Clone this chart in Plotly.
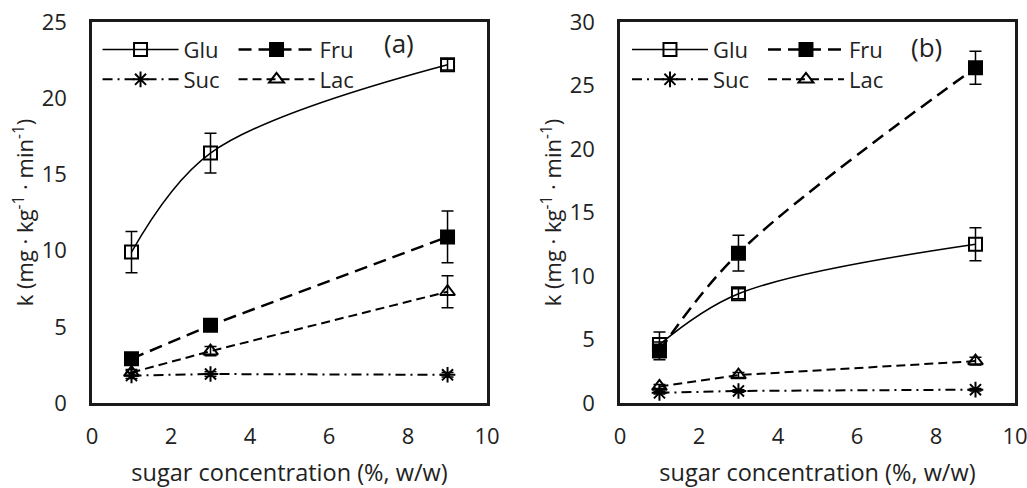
import plotly.graph_objects as go

conc = [1, 3, 9]

# Panel (a)
a_glu = [9.9, 16.4, 22.2]
a_glu_err = [1.35, 1.3, 0.35]
a_fru = [2.9, 5.1, 10.9]
a_fru_err = [0.3, 0.3, 1.7]
a_suc = [1.8, 1.9, 1.85]
a_suc_err = [0.2, 0.15, 0.15]
a_lac = [2.0, 3.4, 7.3]
a_lac_err = [0.2, 0.3, 1.05]

# Panel (b)
b_glu = [4.6, 8.6, 12.5]
b_glu_err = [1.0, 0.4, 1.3]
b_fru = [4.1, 11.8, 26.4]
b_fru_err = [0.7, 1.4, 1.3]
b_suc = [0.8, 0.95, 1.05]
b_suc_err = [0.1, 0.1, 0.1]
b_lac = [1.3, 2.2, 3.3]
b_lac_err = [0.15, 0.2, 0.3]

FONT = "Open Sans"
FS = 22
TC = "#222"

styles = {
    "Glu": dict(dash="solid", width=1.5, symbol="square-open", shape="spline"),
    "Fru": dict(dash="13px,7px", width=2.5, symbol="square", shape="linear"),
    "Suc": dict(dash="10px,5px,2px,5px", width=2, symbol="asterisk-open", shape="linear"),
    "Lac": dict(dash="9px,5px", width=2, symbol="triangle-up-open", shape="linear"),
}

fig = go.Figure()

def add(name, y, err, xa, ya, legend, shape=None):
    st = styles[name]
    fig.add_trace(go.Scatter(
        x=conc, y=y, name=name, xaxis=xa, yaxis=ya, legend=legend,
        mode="lines+markers",
        line=dict(color="black", width=st["width"], dash=st["dash"],
                  shape=shape or st["shape"], smoothing=1.0),
        marker=dict(symbol=st["symbol"], size=13, color="black",
                    line=dict(color="black", width=2)),
        error_y=dict(type="data", array=err, visible=True, color="black",
                     thickness=1.5, width=6),
    ))

add("Glu", a_glu, a_glu_err, "x", "y", "legend")
add("Fru", a_fru, a_fru_err, "x", "y", "legend")
add("Suc", a_suc, a_suc_err, "x", "y", "legend2")
add("Lac", a_lac, a_lac_err, "x", "y", "legend2")
add("Glu", b_glu, b_glu_err, "x2", "y2", "legend3")
add("Fru", b_fru, b_fru_err, "x2", "y2", "legend3", shape="spline")
add("Suc", b_suc, b_suc_err, "x2", "y2", "legend4")
add("Lac", b_lac, b_lac_err, "x2", "y2", "legend4")

axis_common = dict(
    showline=True, linecolor="#1a1a1a", linewidth=2.5, mirror=True,
    showgrid=False, zeroline=False, ticks="", automargin=False,
    ticklabeloverflow="allow",
    tickfont=dict(family=FONT, size=FS, color=TC),
)
xtitle = dict(text="sugar concentration (%, w/w)", font=dict(family=FONT, size=23.5, color=TC), standoff=18)
ytitle = dict(text="k (mg · kg<sup>-1</sup> · min<sup>-1</sup>)", font=dict(family=FONT, size=FS, color=TC), standoff=2)

leg_common = dict(orientation="h", bgcolor="rgba(0,0,0,0)", borderwidth=0,
                  font=dict(family=FONT, size=FS, color=TC),
                  yanchor="middle", xanchor="left", entrywidth=45, entrywidthmode="pixels",
                  itemwidth=76, tracegroupgap=0, itemclick=False)

fig.update_layout(
    width=1027, height=488,
    paper_bgcolor="white", plot_bgcolor="white",
    margin=dict(l=92, r=12, t=22, b=85),
    xaxis=dict(domain=[0, 0.428], range=[0, 10], tickvals=[0, 2, 4, 6, 8, 10],
               ticklabelstandoff=12, title=xtitle, anchor="y", **axis_common),
    yaxis=dict(domain=[0, 1], range=[0, 25], tickvals=[0, 5, 10, 15, 20, 25],
               ticklabelstandoff=18, title=ytitle, anchor="x", **axis_common),
    xaxis2=dict(domain=[0.572, 1.0], range=[0, 10], tickvals=[0, 2, 4, 6, 8, 10],
                ticklabelstandoff=12, title=xtitle, anchor="y2", **axis_common),
    yaxis2=dict(domain=[0, 1], range=[0, 30], tickvals=[0, 5, 10, 15, 20, 25, 30],
                ticklabelstandoff=18, title=ytitle, anchor="x2", **axis_common),
    legend=dict(x=0.006, y=0.927, **leg_common),
    legend2=dict(x=0.006, y=0.849, **leg_common),
    legend3=dict(x=0.5796, y=0.927, **leg_common),
    legend4=dict(x=0.5796, y=0.849, **leg_common),
    annotations=[
        dict(text="(a)", x=0.333, y=0.944, xref="paper", yref="paper", showarrow=False,
             xanchor="center", yanchor="middle",
             font=dict(family=FONT, size=26, color=TC)),
        dict(text="(b)", x=0.9036, y=0.934, xref="paper", yref="paper", showarrow=False,
             xanchor="center", yanchor="middle",
             font=dict(family=FONT, size=26, color=TC)),
    ],
)

fig.write_html("out.html")
